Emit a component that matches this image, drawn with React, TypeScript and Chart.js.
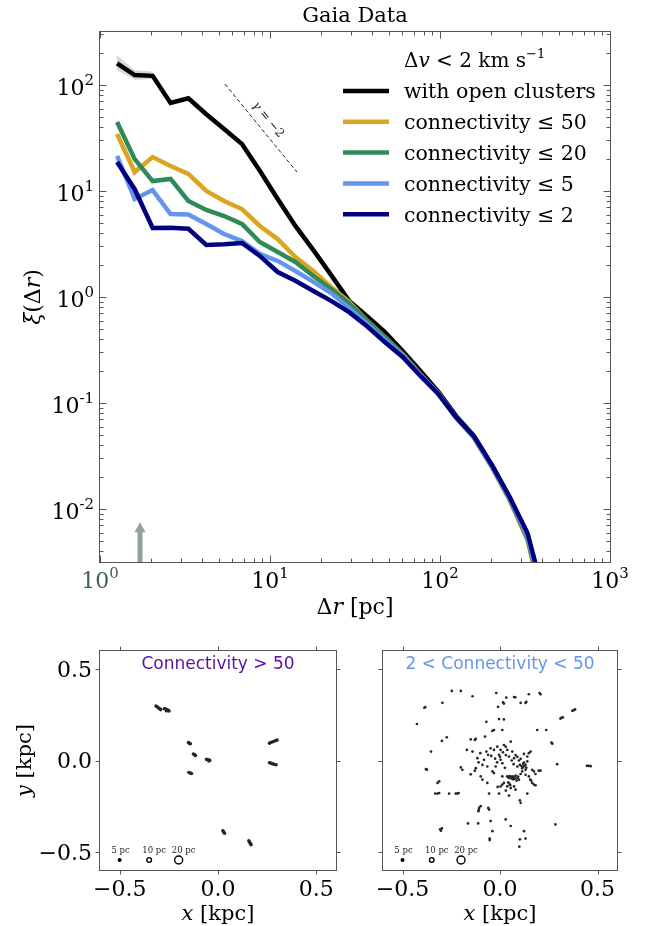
import React, { useEffect, useRef } from 'react';
import { Chart, registerables } from 'chart.js';
Chart.register(...registerables);

// ---------------- DATA ----------------
const SEP_PC = [1.26, 1.6, 2.04, 2.6, 3.31, 4.22, 5.37, 6.84, 8.71, 11.1, 14.1, 18.0, 22.9, 29.2, 37.2, 47.3, 60.3, 76.7, 97.7, 124, 158, 202, 257, 327, 417];
const XI_OPEN = [160, 124, 122, 67.6, 75, 53, 38.5, 27.8, 15.5, 8.4, 4.68, 2.77, 1.61, 0.92, 0.66, 0.468, 0.309, 0.2, 0.128, 0.076, 0.049, 0.0258, 0.0128, 0.0057, 0.0012];
const XI_C50 = [34.5, 15.1, 20.9, 17.2, 14.5, 10, 8.05, 6.76, 4.68, 3.52, 2.38, 1.76, 1.24, 0.9, 0.6, 0.42, 0.29, 0.186, 0.122, 0.073, 0.047, 0.0248, 0.0121, 0.0051, 0.001];
const XI_C20 = [44.8, 20, 12.4, 13, 8.05, 6.62, 5.81, 4.89, 3.3, 2.66, 2.14, 1.58, 1.19, 0.87, 0.6, 0.415, 0.288, 0.186, 0.123, 0.0735, 0.0475, 0.025, 0.0123, 0.0053, 0.0011];
const XI_C5 = [21.4, 8.4, 10.2, 6.07, 6.0, 4.89, 3.93, 3.37, 2.55, 2.19, 1.76, 1.39, 1.09, 0.79, 0.56, 0.395, 0.282, 0.184, 0.123, 0.0735, 0.0478, 0.0254, 0.0126, 0.0055, 0.0012];
const XI_C2 = [18.8, 10.4, 4.48, 4.5, 4.4, 3.1, 3.15, 3.23, 2.44, 1.72, 1.42, 1.14, 0.92, 0.72, 0.53, 0.376, 0.272, 0.18, 0.1216, 0.0738, 0.0489, 0.026, 0.013, 0.00594, 0.00135];
const BAND_X = [1.26, 1.6, 2.04, 2.6];
const BAND_HI = [190, 138, 134, 71];
const BAND_LO = [138, 112, 114, 64];
const SLOPE_X = [5.43, 14.4];
const SLOPE_Y = [102, 15.1];
const ARROW_X = 1.72;
const ARROW_Y = 0.0075;
const X_EXPONENTS = [0, 1, 2, 3];
const Y_EXPONENTS = [-2, -1, 0, 1, 2];
const SERIES_LABELS = ['with open clusters', 'connectivity \u2264 50', 'connectivity \u2264 20', 'connectivity \u2264 5', 'connectivity \u2264 2'];
const SERIES_COLORS = ['#000000', '#DAA520', '#2E8B57', '#6495ED', '#000080'];

const HIGH_CONN: [number, number][] = [
  [-0.315, 0.298], [-0.308, 0.293], [-0.302, 0.288], [-0.296, 0.283], [-0.291, 0.279],
  [-0.272, 0.285], [-0.266, 0.281], [-0.26, 0.279], [-0.254, 0.275], [-0.249, 0.271], [-0.262, 0.272],
  [-0.15, 0.098], [-0.145, 0.094], [-0.141, 0.092],
  [-0.125, 0.036], [-0.119, 0.031], [-0.115, 0.027],
  [-0.058, 0.006], [-0.05, 0.004], [-0.042, 0.001], [-0.046, -0.003],
  [-0.148, -0.066], [-0.141, -0.069], [-0.135, -0.071],
  [0.262, 0.095], [0.272, 0.1], [0.282, 0.104], [0.292, 0.108], [0.3, 0.112],
  [0.262, -0.012], [0.272, -0.016], [0.283, -0.02], [0.295, -0.023],
  [0.025, -0.385], [0.029, -0.392], [0.033, -0.399],
  [0.157, -0.44], [0.161, -0.448], [0.165, -0.456], [0.168, -0.462],
];

const LOW_CONN: [number, number][] = [
  [-0.247, 0.381], [-0.201, 0.381], [-0.141, 0.352], [-0.019, 0.37], [0.032, 0.345], [0.072, 0.348], [0.078, 0.346],
  [0.148, 0.363], [0.208, 0.363], [0.203, 0.37], [0.135, 0.321], [0.131, 0.316], [0.106, 0.316], [0.02, 0.312],
  [0.016, 0.318], [-0.01, 0.294], [-0.295, 0.316], [-0.388, 0.289], [-0.383, 0.293],
  [0.371, 0.272], [0.378, 0.276], [0.385, 0.28], [0.31, 0.23], [0.315, 0.234], [0.322, 0.236],
  [-0.426, 0.2], [-0.07, 0.212], [-0.005, 0.227], [0.02, 0.225],
  [-0.031, 0.167], [0.012, 0.167], [0.191, 0.167], [0.237, 0.167],
  [0.264, 0.098], [0.268, 0.092], [-0.298, 0.107], [-0.273, 0.127], [-0.354, 0.049],
  [-0.15, 0.116], [-0.129, 0.113], [-0.124, 0.118], [-0.077, 0.131], [-0.039, 0.162],
  [-0.17, 0.058], [-0.141, 0.049], [-0.116, 0.013], [-0.09, -0.024], [-0.065, -0.033], [-0.061, 0.031],
  [-0.048, 0.067], [-0.031, 0.058], [-0.014, 0.076], [-0.005, 0.031], [0.003, 0.004], [0.012, -0.015],
  [0.02, 0.085], [0.037, 0.058], [0.046, 0.022], [0.063, 0.049], [0.072, 0.013], [0.089, -0.033],
  [0.102, -0.024], [0.114, -0.042], [0.123, -0.011], [0.131, -0.024], [0.14, -0.005], [0.148, 0.04],
  [0.157, 0.049], [0.165, -0.051], [0.174, -0.06], [0.199, -0.056], [0.131, -0.078], [0.148, -0.087],
  [0.165, -0.123], [0.174, -0.132], [0.182, -0.136], [0.012, -0.087], [0.037, -0.087], [0.046, -0.096],
  [0.055, -0.091], [0.063, -0.087], [0.072, -0.096], [0.08, -0.083], [0.089, -0.096], [0.097, -0.105],
  [0.02, -0.123], [0.012, -0.132], [0.003, -0.142], [0.037, -0.142], [0.055, -0.151], [0.072, -0.142],
  [-0.005, -0.181], [0.046, -0.192], [0.102, -0.218], [0.106, -0.232], [0.14, -0.181], [0.08, -0.16],
  [-0.065, -0.123], [-0.056, -0.181], [-0.031, -0.069], [-0.022, -0.033], [-0.039, -0.06], [-0.099, -0.087],
  [-0.09, -0.105], [-0.082, 0.004], [-0.38, -0.047], [-0.375, -0.05], [-0.32, -0.123], [-0.312, -0.114],
  [-0.332, -0.181], [-0.32, -0.181], [-0.312, -0.178], [-0.261, -0.181], [-0.227, -0.181], [-0.218, -0.181],
  [-0.212, -0.178], [-0.201, -0.038], [-0.193, -0.051], [-0.15, -0.076], [-0.129, -0.056], [-0.124, -0.042],
  [-0.107, -0.26], [-0.109, -0.27], [-0.111, -0.278], [-0.099, -0.25], [-0.06, -0.26], [-0.056, -0.269],
  [-0.164, -0.345], [-0.112, -0.345], [-0.048, -0.332], [-0.039, -0.387], [-0.053, -0.428], [-0.053, -0.436],
  [0.029, -0.323], [0.055, -0.359], [0.123, -0.387], [0.131, -0.428], [0.102, -0.432], [0.099, -0.472],
  [0.284, -0.35], [-0.303, -0.385], [-0.307, -0.377], [-0.298, -0.372],
  [0.293, -0.02], [0.446, -0.029], [0.455, -0.029], [0.465, -0.031], [0.208, -0.056], [0.182, -0.074],
  [-0.07, 0.049], [-0.101, 0.04], [0.003, 0.058], [0.055, 0.103], [0.029, 0.076], [0.089, 0.02],
  [0.097, 0.0], [0.106, 0.009], [0.123, 0.036], [0.14, 0.022], [0.114, -0.06], [0.131, -0.051], [0.106, -0.074],
  [0.06, -0.1], [0.068, -0.103], [0.05, -0.085], [0.085, -0.11],
  [0.058, -0.092], [0.064, -0.095], [0.07, -0.09], [0.076, -0.099], [0.043, -0.091], [0.093, -0.088],
  [0.11, -0.03], [0.118, -0.035], [0.127, -0.03], [0.119, -0.018], [0.135, -0.04], [0.0, 0.02],
  [-0.025, 0.01], [0.03, 0.03], [0.025, -0.04], [0.015, 0.045], [-0.015, -0.01], [0.08, 0.03],
  [0.042, -0.12], [0.048, -0.128], [0.052, -0.135], [0.03, -0.165], [-0.012, -0.145], [0.155, -0.105],
  [0.16, -0.11], [-0.045, 0.025], [-0.11, -0.01], [0.06, 0.0], [0.07, -0.02],
];

const SCALE_X = [-0.5, -0.35, -0.2];
const SCALE_Y = [-0.545, -0.545, -0.545];
const SCALE_LABELS = ['5 pc', '10 pc', '20 pc'];
const PANEL_TICKS = [-0.5, 0, 0.5];
const PANEL_TICK_LABELS = ['\u22120.5', '0.0', '0.5'];

// ---------------- helpers ----------------
const SERIF = '"DejaVu Serif", serif';
const SANS = '"DejaVu Sans", sans-serif';
type Seg = { t: string; it?: boolean; sz?: number; dy?: number; fam?: string };

function drawRich(ctx: CanvasRenderingContext2D, segs: Seg[], x: number, yMid: number, align: string, base: number, color = '#000') {
  ctx.save();
  ctx.fillStyle = color;
  ctx.textBaseline = 'alphabetic';
  ctx.textAlign = 'left';
  const fontOf = (s: Seg) => `${s.it ? 'italic ' : ''}${s.sz ?? base}px ${s.fam ?? SERIF}`;
  let w = 0;
  const ws = segs.map((s) => { ctx.font = fontOf(s); const m = ctx.measureText(s.t).width; w += m; return m; });
  let cx = align === 'left' ? x : align === 'center' ? x - w / 2 : x - w;
  const by = yMid + base * 0.36;
  segs.forEach((s, i) => { ctx.font = fontOf(s); ctx.fillText(s.t, cx, by + (s.dy ?? 0)); cx += ws[i]; });
  ctx.restore();
  return w;
}

const pw = (e: number, base: number): Seg[] => [{ t: '10' }, { t: String(e), sz: base * 0.68, dy: -base * 0.45 }];
const crisp = (v: number) => Math.round(v) + 0.5;

// ---------------- top chart ----------------
const topDecor = {
  id: 'topDecor',
  afterDatasetsDraw(chart: any) {
    const { ctx, chartArea: a, scales } = chart;
    const x = scales.x, y = scales.y;
    ctx.save();
    // arrow
    const ax = x.getPixelForValue(ARROW_X);
    const at = y.getPixelForValue(ARROW_Y);
    ctx.fillStyle = '#8fa1a1';
    ctx.fillRect(ax - 2.5, at + 9, 5, a.bottom - at - 9);
    ctx.beginPath(); ctx.moveTo(ax, at); ctx.lineTo(ax - 5.5, at + 10); ctx.lineTo(ax + 5.5, at + 10); ctx.closePath(); ctx.fill();

    // gamma label
    const x1 = x.getPixelForValue(SLOPE_X[0]), y1 = y.getPixelForValue(SLOPE_Y[0]);
    const x2 = x.getPixelForValue(SLOPE_X[1]), y2 = y.getPixelForValue(SLOPE_Y[1]);
    const ang = Math.atan2(y2 - y1, x2 - x1);
    const len = Math.hypot(x2 - x1, y2 - y1);
    const dx = (x2 - x1) / len, dy = (y2 - y1) / len;
    const mx = (x1 + x2) / 2 + dy * 12 - dx * 2, my = (y1 + y2) / 2 - dx * 12 - dy * 2;
    ctx.save(); ctx.translate(mx, my); ctx.rotate(ang);
    drawRich(ctx, [{ t: '\u03b3', it: true }, { t: ' = \u22122' }], 0, 0, 'center', 12, '#222');
    ctx.restore();

    // frame
    ctx.strokeStyle = '#555'; ctx.lineWidth = 1;
    const L = crisp(a.left) - 1, R = crisp(a.right), T = crisp(a.top) - 1, B = crisp(a.bottom);
    ctx.strokeRect(L, T, R - L, B - T);
    // ticks
    ctx.beginPath();
    const xt = (v: number, l: number) => { const p = crisp(x.getPixelForValue(v)); ctx.moveTo(p, B); ctx.lineTo(p, B - l); ctx.moveTo(p, T); ctx.lineTo(p, T + l); };
    const yt = (v: number, l: number) => { const p = crisp(y.getPixelForValue(v)); ctx.moveTo(L, p); ctx.lineTo(L + l, p); ctx.moveTo(R, p); ctx.lineTo(R - l, p); };
    X_EXPONENTS.forEach((e) => {
      xt(10 ** e, 7);
      if (e < 3) for (let m = 2; m <= 9; m++) xt(m * 10 ** e, 4);
    });
    for (let e = -3; e <= 2; e++) {
      if (Y_EXPONENTS.includes(e)) yt(10 ** e, 7);
      for (let m = 2; m <= 9; m++) { const v = m * 10 ** e; if (v > y.min && v < y.max) yt(v, 4); }
    }
    ctx.stroke();
    // tick labels
    X_EXPONENTS.forEach((e) => drawRich(ctx, pw(e, 22), x.getPixelForValue(10 ** e), 580, 'center', 22, e === 0 ? '#3f5f5f' : '#000'));
    Y_EXPONENTS.forEach((e) => drawRich(ctx, pw(e, 22), a.left - 6, y.getPixelForValue(10 ** e) + 2, 'right', 22));
    // axis titles
    drawRich(ctx, [{ t: '\u0394' }, { t: 'r', it: true }, { t: ' [pc]' }], (a.left + a.right) / 2, 606, 'center', 22);
    ctx.save(); ctx.translate(32, (a.top + a.bottom) / 2); ctx.rotate(-Math.PI / 2);
    drawRich(ctx, [{ t: '\u03be', it: true }, { t: '(\u0394' }, { t: 'r', it: true }, { t: ')' }], 0, 0, 'center', 22);
    ctx.restore();
    // title
    drawRich(ctx, [{ t: 'Gaia Data' }], (a.left + a.right) / 2, 14, 'center', 21);
    // legend
    drawRich(ctx, [{ t: '\u0394' }, { t: 'v', it: true }, { t: ' < 2 km s' }, { t: '\u22121', sz: 13, dy: -9 }], 404, 60, 'left', 20);
    SERIES_LABELS.forEach((lab, i) => {
      const cy = 91 + i * 30.8;
      ctx.strokeStyle = SERIES_COLORS[i]; ctx.lineWidth = 4.5;
      ctx.beginPath(); ctx.moveTo(343, cy); ctx.lineTo(389, cy); ctx.stroke();
      drawRich(ctx, [{ t: lab }], 404, cy, 'left', 20.5);
    });
    ctx.restore();
  },
};

function lineDs(vals: number[], color: string, order: number) {
  return {
    data: SEP_PC.map((x, i) => ({ x, y: vals[i] })),
    borderColor: color, borderWidth: 4.5, pointRadius: 0, fill: false, order, clip: 0,
  };
}

function topConfig(): any {
  return {
    type: 'line',
    data: {
      datasets: [
        { data: BAND_X.map((x, i) => ({ x, y: BAND_HI[i] })), borderColor: 'transparent', borderWidth: 0, pointRadius: 0, fill: '+1', backgroundColor: 'rgba(140,140,140,0.35)', order: 7 },
        { data: BAND_X.map((x, i) => ({ x, y: BAND_LO[i] })), borderColor: 'transparent', borderWidth: 0, pointRadius: 0, fill: false, order: 7 },
        { data: SLOPE_X.map((x, i) => ({ x, y: SLOPE_Y[i] })), borderColor: '#222', borderWidth: 1, borderDash: [4, 2.5], pointRadius: 0, fill: false, order: 6 },
        lineDs(XI_OPEN, SERIES_COLORS[0], 4),
        lineDs(XI_C50, SERIES_COLORS[1], 3),
        lineDs(XI_C20, SERIES_COLORS[2], 2),
        lineDs(XI_C5, SERIES_COLORS[3], 1),
        lineDs(XI_C2, SERIES_COLORS[4], 0),
      ],
    },
    options: {
      animation: false, responsive: false, devicePixelRatio: 1,
      layout: { padding: { left: 100, right: 47, top: 32, bottom: 58 } },
      plugins: { legend: { display: false }, tooltip: { enabled: false } },
      elements: { line: { tension: 0 } },
      scales: {
        x: { type: 'logarithmic', min: 1, max: 1000, display: false },
        y: { type: 'logarithmic', min: 10 ** -2.5, max: 10 ** 2.5, display: false },
      },
    },
    plugins: [topDecor],
  };
}

// ---------------- bottom panels ----------------
const SCALE_LABEL_SHIFT = [1, 5, 5];

function panelDecor(title: string, color: string, showY: boolean) {
  return {
    id: 'panelDecor',
    afterDatasetsDraw(chart: any) {
      const { ctx, chartArea: a, scales } = chart;
      const x = scales.x, y = scales.y;
      ctx.save();
      ctx.strokeStyle = '#555'; ctx.lineWidth = 1;
      const L = crisp(a.left) - 1, R = crisp(a.right), T = crisp(a.top) - 1, B = crisp(a.bottom);
      ctx.strokeRect(L, T, R - L, B - T);
      ctx.beginPath();
      PANEL_TICKS.forEach((v) => {
        const px = crisp(x.getPixelForValue(v)); ctx.moveTo(px, B); ctx.lineTo(px, B + 4); ctx.moveTo(px, T); ctx.lineTo(px, T - 4);
        const py = crisp(y.getPixelForValue(v)); ctx.moveTo(L, py); ctx.lineTo(L - 4, py); ctx.moveTo(R, py); ctx.lineTo(R + 4, py);
      });
      ctx.stroke();
      PANEL_TICKS.forEach((v, i) => {
        drawRich(ctx, [{ t: PANEL_TICK_LABELS[i] }], x.getPixelForValue(v), a.bottom + 18, 'center', 22);
        if (showY) drawRich(ctx, [{ t: PANEL_TICK_LABELS[i] }], a.left - 8, y.getPixelForValue(v), 'right', 22);
      });
      drawRich(ctx, [{ t: 'x', it: true }, { t: ' [kpc]' }], (a.left + a.right) / 2, a.bottom + 42, 'center', 21);
      if (showY) {
        ctx.save(); ctx.translate(23, (a.top + a.bottom) / 2); ctx.rotate(-Math.PI / 2);
        drawRich(ctx, [{ t: 'y', it: true }, { t: ' [kpc]' }], 0, 0, 'center', 21);
        ctx.restore();
      }
      drawRich(ctx, [{ t: title, fam: SANS }], (a.left + a.right) / 2, a.top + 12, 'center', 17, color);
      SCALE_X.forEach((v, i) => {
        drawRich(ctx, [{ t: SCALE_LABELS[i] }], x.getPixelForValue(v) + SCALE_LABEL_SHIFT[i], y.getPixelForValue(SCALE_Y[i]) - 10, 'center', 8.5, '#222');
      });
      ctx.restore();
    },
  };
}

function panelConfig(pts: [number, number][], title: string, color: string, showY: boolean, padding: any, r: number): any {
  return {
    type: 'scatter',
    data: {
      datasets: [
        { data: pts.map(([x, y]) => ({ x, y })), pointRadius: r, backgroundColor: '#262626', borderWidth: 0, pointBorderWidth: 0 },
        {
          data: SCALE_X.map((x, i) => ({ x, y: SCALE_Y[i] })), pointRadius: [1.3, 2.3, 4], pointBorderWidth: 1.4,
          pointBorderColor: '#000', pointBackgroundColor: ['#000', 'rgba(0,0,0,0)', 'rgba(0,0,0,0)'],
        },
      ],
    },
    options: {
      animation: false, responsive: false, devicePixelRatio: 1,
      layout: { padding },
      plugins: { legend: { display: false }, tooltip: { enabled: false } },
      scales: {
        x: { type: 'linear', min: -0.6, max: 0.6, display: false },
        y: { type: 'linear', min: -0.6, max: 0.6, display: false },
      },
    },
    plugins: [panelDecor(title, color, showY)],
  };
}

export default function App() {
  const topRef = useRef<HTMLCanvasElement>(null);
  const leftRef = useRef<HTMLCanvasElement>(null);
  const rightRef = useRef<HTMLCanvasElement>(null);
  useEffect(() => {
    const charts = [
      new Chart(topRef.current!, topConfig()),
      new Chart(leftRef.current!, panelConfig(HIGH_CONN, 'Connectivity > 50', '#5c0fa0', true, { left: 100, right: 9, top: 31, bottom: 56 }, 1.8)),
      new Chart(rightRef.current!, panelConfig(LOW_CONN, '2 < Connectivity < 50', '#6495ED', false, { left: 38, right: 40, top: 31, bottom: 56 }, 1.35)),
    ];
    return () => charts.forEach((c) => c.destroy());
  }, []);
  return (
    <div style={{ position: 'fixed', left: 0, top: 0, width: 657, height: 926, background: '#fff' }}>
      <canvas ref={topRef} width={657} height={620} style={{ position: 'absolute', left: 0, top: 0 }} />
      <canvas ref={leftRef} width={345} height={306} style={{ position: 'absolute', left: 0, top: 620 }} />
      <canvas ref={rightRef} width={312} height={306} style={{ position: 'absolute', left: 345, top: 620 }} />
    </div>
  );
}
